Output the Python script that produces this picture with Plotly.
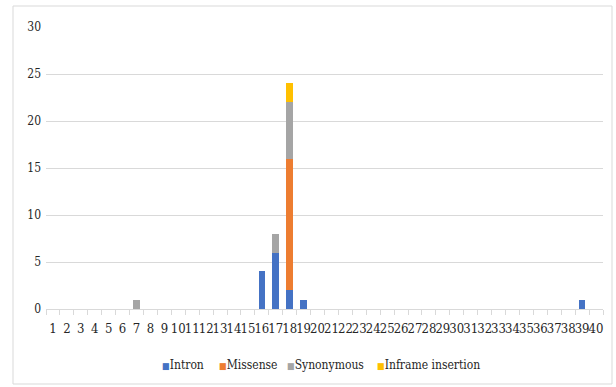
import plotly.graph_objects as go

categories = [str(i) for i in range(1, 41)]
intron = [0]*40
missense = [0]*40
synonymous = [0]*40
inframe = [0]*40
intron[15] = 4; intron[16] = 6; intron[17] = 2; intron[18] = 1; intron[38] = 1
missense[17] = 14
synonymous[6] = 1; synonymous[16] = 2; synonymous[17] = 6
inframe[17] = 2

series = [("Intron", intron, "#4472C4"), ("Missense", missense, "#ED7D31"),
          ("Synonymous", synonymous, "#A5A5A5"), ("Inframe insertion", inframe, "#FFC000")]

fig = go.Figure()
for name, vals, col in series:
    fig.add_trace(go.Bar(x=categories, y=vals, name=name, marker_color=col,
                         marker_line_width=0, showlegend=False))

FAM = "DejaVu Serif Condensed, DejaVu Serif"
TXT = "#262626"
L, R, T, B = 46, 13, 27, 78
W, H = 616, 387
pw, ph = W - L - R, H - T - B

legend_px = [160, 217, 285, 375]
annotations = [dict(xref="paper", yref="paper", x=(px - L)/pw, y=-(365 - T - ph)/ph,
                    xanchor="left", yanchor="middle", showarrow=False,
                    text=f'<span style="color:{col};font-size:9px">■</span>{name}',
                    font=dict(family=FAM, size=12, color=TXT))
               for px, (name, _, col) in zip(legend_px, series)]

fig.update_layout(
    width=W, height=H, barmode="stack", bargap=0.52,
    margin=dict(l=L, r=R, t=T, b=B, autoexpand=False),
    paper_bgcolor="white", plot_bgcolor="white", font=dict(family=FAM, size=12, color=TXT),
    xaxis=dict(type="category", showgrid=False, showline=True, linecolor="#D9D9D9",
               automargin=False,
               tickmode="array", tickvals=categories, ticktext=categories,
               ticks="outside", tickson="boundaries", ticklen=5, tickcolor="#D9D9D9",
               ticklabelstandoff=7,
               tickfont=dict(family=FAM, size=13, color=TXT), tickangle=0),
    yaxis=dict(range=[0, 30], dtick=5, showgrid=True, gridcolor="#D9D9D9", zeroline=False,
               automargin=False, ticklabelstandoff=4,
               showline=False, ticks="", tickfont=dict(family=FAM, size=12, color=TXT)),
    annotations=annotations,
    shapes=[dict(type="rect", xref="paper", yref="paper",
                 x0=(13 - L)/pw, x1=(W - 4 - L)/pw, y0=-(H - 3 - T - ph)/ph, y1=1 + (T - 6)/ph,
                 line=dict(color="#D9D9D9", width=1))]
)
fig.write_html("out.html", config={"displayModeBar": False},
               post_script="document.body.style.margin='0';")
